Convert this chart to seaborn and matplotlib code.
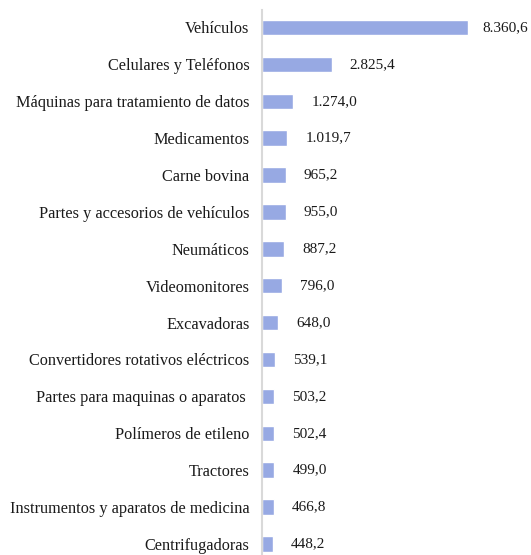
import matplotlib
matplotlib.use('Agg')
import matplotlib.pyplot as plt
import seaborn as sns
import pandas as pd

# Datos
productos = [
    "Vehículos",
    "Celulares y Teléfonos",
    "Máquinas para tratamiento de datos",
    "Medicamentos",
    "Carne bovina",
    "Partes y accesorios de vehículos",
    "Neumáticos",
    "Videomonitores",
    "Excavadoras",
    "Convertidores rotativos eléctricos",
    "Partes para maquinas o aparatos ",
    "Polímeros de etileno",
    "Tractores",
    "Instrumentos y aparatos de medicina",
    "Centrifugadoras",
]
valores = [8360.6, 2825.4, 1274.0, 1019.7, 965.2, 955.0, 887.2, 796.0,
           648.0, 539.1, 503.2, 502.4, 499.0, 466.8, 448.2]

df = pd.DataFrame({"producto": productos, "valor": valores})

sns.set_style("white")
plt.rcParams['font.family'] = ['Liberation Serif', 'DejaVu Serif']

fig = plt.figure(figsize=(5.31, 5.55), dpi=100)
ax = fig.add_axes([262 / 531, 0, 269 / 531, 545 / 555])

sns.barplot(data=df, x="valor", y="producto", color="#97a9e3",
            width=0.42, saturation=1, ax=ax)


def formato(v):
    # formato español: punto de miles, coma decimal
    s = f"{v:,.1f}"
    return s.replace(",", "X").replace(".", ",").replace("X", ".")


etiquetas = [formato(v) for v in valores]
# la primera etiqueta va más pegada a la barra (falta espacio a la derecha)
ax.bar_label(ax.containers[0], labels=[etiquetas[0]] + [""] * (len(valores) - 1),
             padding=10, fontsize=11, color="#1a1a1a")
ax.bar_label(ax.containers[0], labels=[""] + etiquetas[1:],
             padding=13, fontsize=11, color="#1a1a1a")

ax.set_xlim(0, 8360.6 * 269 / 206)
ax.set_ylim(14.3, -0.474)
ax.set_xlabel("")
ax.set_ylabel("")
ax.set_xticks([])
ax.tick_params(axis="y", length=0, pad=9, labelsize=11.7, labelcolor="#1a1a1a")
for s in ["top", "right", "bottom"]:
    ax.spines[s].set_visible(False)
ax.spines["left"].set_color("#d9d9d9")
ax.spines["left"].set_linewidth(1.5)

plt.savefig("out.png", dpi=100)
plt.close()
